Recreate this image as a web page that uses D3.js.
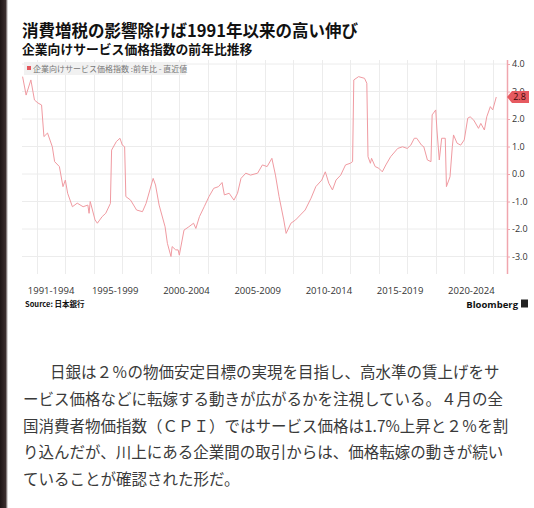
<!DOCTYPE html>
<html><head><meta charset="utf-8">
<script src="https://cdn.jsdelivr.net/npm/d3@7"></script>
<style>html,body{margin:0;padding:0;background:#fff;} svg{display:block}</style>
</head><body><svg id="c" width="534" height="508"></svg>
<script>
// ---- data ----
const months = ["1991-01","1991-04","1991-08","1991-11","1992-02","1992-05","1992-07","1992-10","1993-02","1993-04","1993-08","1993-11","1994-01","1994-03","1994-07","1994-11","1995-04","1995-08","1995-09","1995-10","1996-02","1996-04","1996-08","1996-11","1997-03","1997-04","1997-08","1997-11","1998-01","1998-03","1998-04","1998-08","1999-01","1999-06","1999-09","2000-03","2000-05","2000-08","2001-01","2001-03","2001-06","2001-07","2001-10","2001-12","2002-01","2002-05","2002-09","2003-01","2003-03","2003-06","2003-10","2004-02","2004-06","2004-10","2005-01","2005-03","2005-07","2005-11","2006-02","2006-05","2006-09","2007-01","2007-07","2007-11","2008-03","2008-07","2008-10","2009-01","2009-05","2009-07","2009-11","2010-03","2010-07","2010-11","2011-04","2011-08","2012-01","2012-04","2012-07","2012-10","2013-01","2013-05","2013-09","2014-01","2014-03","2014-04","2014-08","2015-01","2015-03","2015-04","2015-06","2015-07","2015-10","2016-01","2016-04","2016-07","2016-11","2017-05","2017-09","2018-01","2018-04","2018-07","2018-09","2019-01","2019-03","2019-06","2019-09","2019-10","2020-01","2020-02","2020-04","2020-06","2020-09","2020-10","2021-01","2021-03","2021-04","2021-07","2021-10","2022-01","2022-04","2022-06","2022-09","2023-01","2023-03","2023-06","2023-08","2023-11","2024-01","2024-04"];
const values = [3.54,2.87,3.42,2.69,2.58,2.51,1.36,1.49,0.99,0.45,0.27,-0.46,-0.22,-0.70,-1.19,-1.06,-1.19,-1.13,-1.43,-1.00,-1.67,-1.79,-1.55,-1.43,-1.07,0.87,1.18,1.30,1.05,0.99,-0.82,-0.95,-1.31,-1.37,-1.07,-0.16,-0.40,-1.13,-1.92,-2.52,-3.00,-2.64,-2.76,-2.76,-2.95,-2.04,-1.92,-1.79,-1.98,-1.55,-1.19,-0.82,-0.52,-0.46,-0.31,-0.76,-0.70,-0.95,-0.70,-0.16,0.03,-0.04,0.03,0.33,0.27,0.57,-0.04,-0.82,-1.67,-2.16,-1.79,-1.67,-1.49,-1.31,-0.88,-0.46,-0.22,0.08,-0.34,-0.58,-0.22,-0.04,0.33,0.39,0.45,3.42,3.54,3.48,3.30,0.63,0.39,0.57,0.27,0.21,0.08,0.33,0.63,0.93,0.99,0.93,1.05,1.30,1.30,1.05,0.99,0.51,0.45,2.15,2.33,1.60,0.51,1.30,1.30,-0.46,-0.10,0.99,1.42,1.12,1.05,1.24,2.03,2.08,1.96,1.66,1.84,1.60,2.08,2.45,2.33,2.80];
const yTicks = [4, 3, 2, 1, 0, -1, -2, -3];
const periodLabels = ["1991-1994","1995-1999","2000-2004","2005-2009","2010-2014","2015-2019","2020-2024"];
const periodStart = [1991, 1995, 2000, 2005, 2010, 2015, 2020];
const periodEnd = [1995, 2000, 2005, 2010, 2015, 2020, 2025];
const gridYears = [1992,1994,1996,1998,2000,2002,2004,2006,2008,2010,2012,2014,2016,2018,2020,2022,2024];
const titleText = "消費増税の影響除けば1991年以来の高い伸び";
const subtitleText = "企業向けサービス価格指数の前年比推移";
const legendText = "企業向けサービス価格指数 :前年比 - 直近値";
const sourceText = "Source: 日本銀行";
const bodyLines = [
  "日銀は２％の物価安定目標の実現を目指し、高水準の賃上げをサ",
  "ービス価格などに転嫁する動きが広がるかを注視している。４月の全",
  "国消費者物価指数（ＣＰＩ）ではサービス価格は1.7%上昇と２％を割",
  "り込んだが、川上にある企業間の取引からは、価格転嫁の動きが続い",
  "ていることが確認された形だ。"
];

// ---- drawing ----
const svg = d3.select("#c");
const parse = d3.timeParse("%Y-%m");
const data = months.map((m, i) => ({d: parse(m), v: values[i]}));
const yr = y => new Date(y, 0, 1);

const plotTop = 60, plotBottom = 274;
const x = d3.scaleTime().domain([yr(1991), yr(2025)]).range([22.6, 507]);
const y = d3.scaleLinear().domain([-3, 4]).range([256.5, 64]);

// dark strip at left edge
const grad = svg.append("defs").append("linearGradient").attr("id","edge").attr("x1","0").attr("x2","1");
grad.append("stop").attr("offset","0").attr("stop-color","#1e1616");
grad.append("stop").attr("offset","0.7").attr("stop-color","#3a2e2e");
grad.append("stop").attr("offset","1").attr("stop-color","#ffffff");
svg.append("rect").attr("x",0).attr("y",0).attr("width",8).attr("height",508).attr("fill","url(#edge)");

// grid
const g = svg.append("g");
g.selectAll("line.hg").data(yTicks).join("line")
  .attr("x1", 22).attr("x2", 507).attr("y1", d => y(d)).attr("y2", d => y(d))
  .attr("stroke", "#ececec").attr("stroke-width", 1);
g.selectAll("line.vg").data(gridYears).join("line")
  .attr("x1", d => Math.round(x(yr(d))) + 0.5).attr("x2", d => Math.round(x(yr(d))) + 0.5)
  .attr("y1", plotTop).attr("y2", plotBottom)
  .attr("stroke", "#ececec").attr("stroke-width", 1);

// line
g.append("path").datum(data)
  .attr("d", d3.line().x(d => x(d.d)).y(d => y(d.v)))
  .attr("fill", "none").attr("stroke", "#f09aa1").attr("stroke-width", 1);

// right axis
const fmt = v => d3.format(".1f")(v).replace("−", "-");
const ax = svg.append("g").attr("transform", "translate(507,0)")
  .call(d3.axisRight(y).tickValues(yTicks).tickFormat(fmt).tickSize(3).tickSizeOuter(0));
ax.select(".domain").remove();
ax.append("line").attr("x1", 0.5).attr("x2", 0.5).attr("y1", plotTop).attr("y2", plotBottom)
  .attr("stroke", "#f0a6ae").attr("stroke-width", 1.5);
ax.selectAll(".tick line").attr("stroke", "#f0a6ae");
ax.selectAll(".tick text").attr("x", 5).attr("fill", "#333")
  .style("font-family", "'Open Sans', 'DejaVu Sans', sans-serif").style("font-size", "9px");

// last value label (drawn over the 3.0 tick, as in the reference)
const last = data[data.length - 1];
const ly = y(last.v);
svg.append("path")
  .attr("d", `M507,${ly} L512,${ly-6} L529,${ly-6} L529,${ly+6} L512,${ly+6} Z`)
  .attr("fill", "#e65a60");
svg.append("text").attr("x", 519.5).attr("y", ly + 3.3).attr("text-anchor", "middle")
  .attr("fill", "#3b0a0a").style("font-family", "'Open Sans', sans-serif").style("font-size", "9px")
  .text(fmt(last.v));

// x labels
svg.append("g").selectAll("text").data(periodLabels).join("text")
  .attr("x", (d, i) => (x(yr(periodStart[i])) + x(yr(periodEnd[i]))) / 2)
  .attr("y", 293.5).attr("text-anchor", "middle").attr("fill", "#333")
  .style("font-family", "'Open Sans', 'DejaVu Sans', sans-serif").style("font-size", "9.5px")
  .text(d => d);

// legend
svg.append("rect").attr("x", 24).attr("y", 62).attr("width", 162).attr("height", 13).attr("fill", "#f1f1f1");
svg.append("rect").attr("x", 27).attr("y", 66).attr("width", 4).attr("height", 4).attr("fill", "#e4575d");
svg.append("text").attr("x", 33).attr("y", 71.5).attr("fill", "#777")
  .style("font-family", "'Noto Sans CJK JP', sans-serif").style("font-size", "8px").text(legendText);

// titles
svg.append("text").attr("x", 22).attr("y", 36.5).attr("fill", "#111")
  .style("font-family", "'Noto Sans CJK JP', sans-serif").style("font-weight", "700").style("font-size", "16.5px")
  .text(titleText);
svg.append("text").attr("x", 22).attr("y", 53.5).attr("fill", "#111")
  .style("font-family", "'Noto Sans CJK JP', sans-serif").style("font-weight", "700").style("font-size", "12.8px")
  .text(subtitleText);

// source & logo
svg.append("text").attr("x", 25).attr("y", 307).attr("fill", "#111")
  .style("font-family", "'Noto Sans CJK JP', sans-serif").style("font-weight", "700").style("font-size", "7.5px")
  .text(sourceText);
svg.append("text").attr("x", 518).attr("y", 307.5).attr("text-anchor", "end").attr("fill", "#111")
  .style("font-family", "'Open Sans', sans-serif").style("font-weight", "700").style("font-size", "9.5px")
  .text("Bloomberg");
svg.append("rect").attr("x", 521).attr("y", 299.5).attr("width", 7).attr("height", 8).attr("fill", "#222");

// body paragraph
svg.append("g").selectAll("text").data(bodyLines).join("text")
  .attr("x", (d, i) => i === 0 ? 50 : 23)
  .attr("y", (d, i) => 378 + i * 26.75)
  .attr("fill", "#3a3a3a")
  .style("font-family", "'Noto Sans CJK JP', sans-serif").style("font-size", "15.5px")
  .text(d => d);
</script></body></html>
